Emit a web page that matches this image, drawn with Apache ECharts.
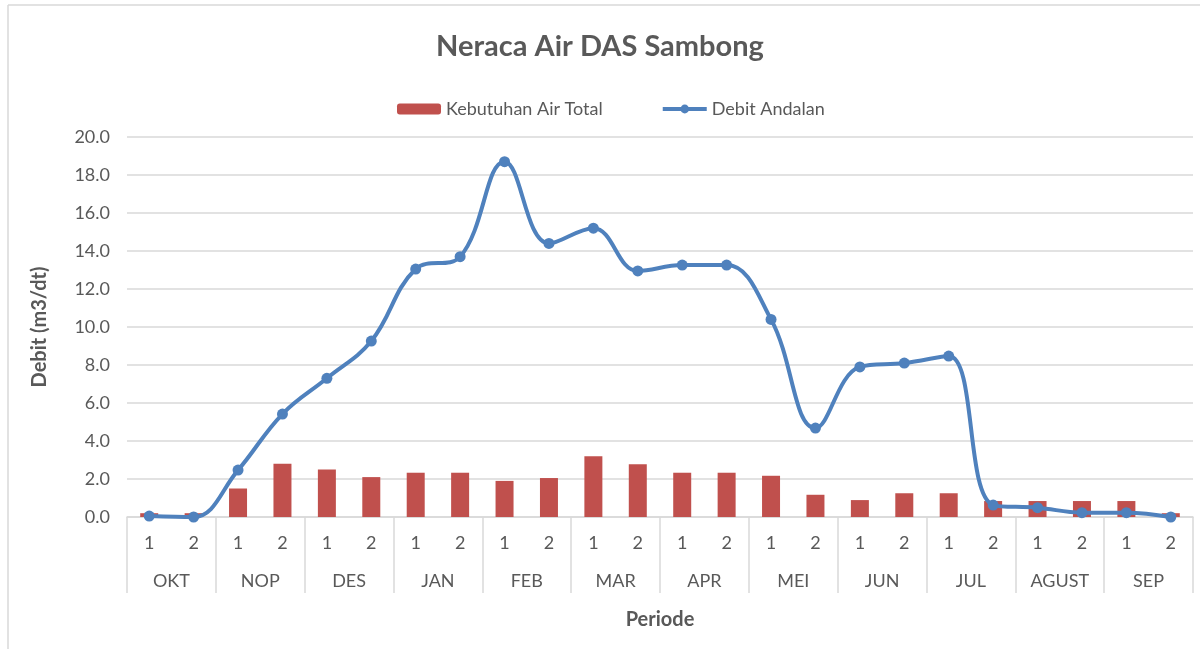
<!DOCTYPE html>
<html>
<head>
<meta charset="utf-8">
<script src="https://cdn.jsdelivr.net/npm/echarts@6/dist/echarts.min.js"></script>
<style>
  html, body { margin: 0; padding: 0; background: #fff; }
  #main { width: 1200px; height: 649px; }
</style>
</head>
<body>
<div id="main"></div>
<script>
// data
var months = ['OKT', 'NOP', 'DES', 'JAN', 'FEB', 'MAR', 'APR', 'MEI', 'JUN', 'JUL', 'AGUST', 'SEP'];
var periods = ['1', '2', '1', '2', '1', '2', '1', '2', '1', '2', '1', '2',
               '1', '2', '1', '2', '1', '2', '1', '2', '1', '2', '1', '2'];
var kebutuhan = [0.2, 0.2, 1.5, 2.8, 2.5, 2.1, 2.33, 2.33, 1.9, 2.05, 3.2, 2.77,
                 2.33, 2.33, 2.17, 1.17, 0.89, 1.25, 1.25, 0.84, 0.84, 0.84, 0.84, 0.2];
var debit = [0.05, 0.0, 2.47, 5.42, 7.3, 9.26, 13.05, 13.7, 18.7, 14.4, 15.2, 12.95,
             13.26, 13.26, 10.4, 4.68, 7.9, 8.1, 8.47, 0.63, 0.49, 0.23, 0.23, 0.0];

var font = 'Lato';
var grey = '#595959';

var myChart = echarts.init(document.getElementById('main'));

myChart.setOption({
  animation: false,
  textStyle: { fontFamily: font },
  title: {
    text: 'Neraca Air DAS Sambong',
    left: 'center',
    top: 27,
    textStyle: { fontSize: 29, fontWeight: 'bold', color: grey, fontFamily: font }
  },
  legend: {
    top: 95,
    left: 392,
    itemWidth: 44,
    itemHeight: 11,
    itemGap: 58,
    textStyle: { fontSize: 18, color: grey, fontFamily: font },
    data: [
      { name: 'Kebutuhan Air Total' },
      { name: 'Debit Andalan', lineStyle: { width: 4 } }
    ]
  },
  grid: { left: 127, right: 7, top: 137, bottom: 132 },
  graphic: [
    { type: 'line', shape: { x1: 8, y1: 5, x2: 8, y2: 649 }, style: { stroke: '#d9d9d9', lineWidth: 1.5 } },
    { type: 'line', shape: { x1: 8, y1: 5, x2: 1200, y2: 5 }, style: { stroke: '#d9d9d9', lineWidth: 1.5 } }
  ],
  xAxis: [{
    type: 'category',
    data: periods,
    axisLine: { lineStyle: { color: '#d9d9d9', width: 1.5 } },
    axisTick: { show: false },
    axisLabel: { interval: 0, margin: 17, fontSize: 18, color: grey, fontFamily: font }
  }, {
    type: 'category',
    data: months,
    position: 'bottom',
    axisLine: { show: false },
    axisTick: { show: true, length: 76, interval: 0, lineStyle: { color: '#d9d9d9', width: 1.5 } },
    axisLabel: { interval: 0, margin: 55, fontSize: 18, color: grey, fontFamily: font },
    name: 'Periode',
    nameLocation: 'middle',
    nameGap: 93,
    nameTextStyle: { fontSize: 20, fontWeight: 'bold', color: grey, fontFamily: font }
  }],
  yAxis: {
    type: 'value',
    min: 0,
    max: 20,
    interval: 2,
    name: 'Debit (m3/dt)',
    nameLocation: 'middle',
    nameGap: 77,
    nameTextStyle: { fontSize: 20, fontWeight: 'bold', color: grey, fontFamily: font },
    axisLine: { show: false },
    axisTick: { show: false },
    axisLabel: {
      fontSize: 18, color: grey, fontFamily: font, margin: 17,
      formatter: function (v) { return v.toFixed(1); }
    },
    splitLine: { lineStyle: { color: '#d9d9d9', width: 1.5 } }
  },
  series: [{
    name: 'Kebutuhan Air Total',
    type: 'bar',
    xAxisIndex: 0,
    data: kebutuhan,
    barWidth: 18,
    itemStyle: { color: '#c0504d' }
  }, {
    name: 'Debit Andalan',
    type: 'line',
    xAxisIndex: 0,
    data: debit,
    smooth: 0.4,
    symbol: 'circle',
    symbolSize: 11,
    lineStyle: { color: '#4f81bd', width: 4 },
    itemStyle: { color: '#4f81bd' }
  }]
});
</script>
</body>
</html>
